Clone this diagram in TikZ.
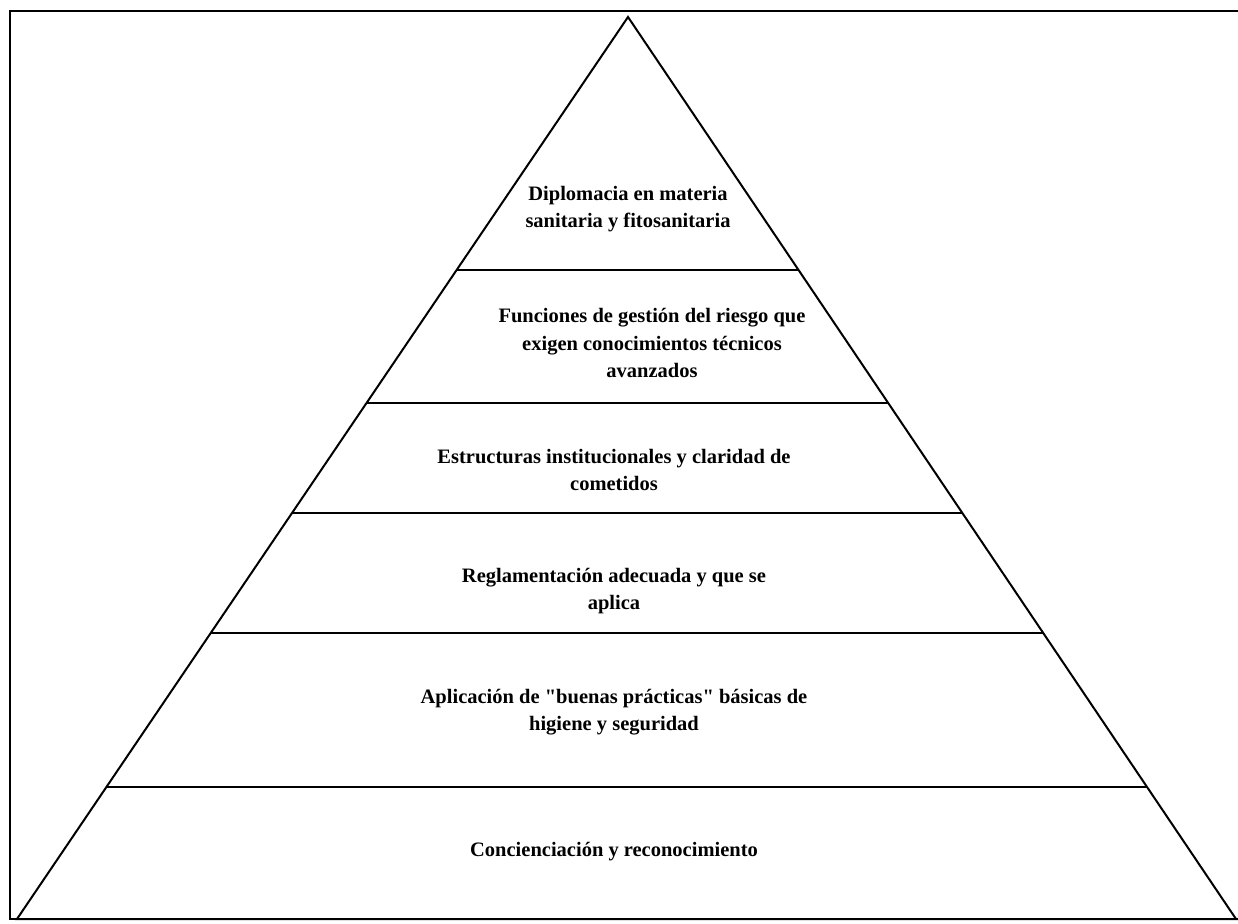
\documentclass[tikz,border=0pt]{standalone}
\usepackage{fontspec}
\setmainfont{Liberation Serif}[Ligatures=TeXOff]
\usetikzlibrary{calc}

\begin{document}
\begin{tikzpicture}[x=1pt,y=-1pt,
  level/.style={font=\fontsize{20.5}{27.5}\selectfont\bfseries, align=center, inner sep=0pt},
  edge/.style={line width=2pt}]
\useasboundingbox (0,0) rectangle (1238,923);
\draw[line width=2.8pt] (10,11) rectangle (1250,919);
\coordinate (apex) at (628,17);
\coordinate (bl) at (17,919);
\coordinate (br) at (1236,919);
\draw[edge, line join=miter] (bl) -- (apex) -- (br) -- cycle;
\foreach \t in {0.2805,0.4274,0.5499,0.6829,0.8537}
  \draw[edge] ($(apex)!\t!(bl)$) -- ($(apex)!\t!(br)$);
\node[level] (diplomacia) at (628,209) {Diplomacia en materia\\sanitaria y fitosanitaria};
\node[level] (funciones) at (652,343) {Funciones de gestión del riesgo que\\exigen conocimientos técnicos\\avanzados};
\node[level] (estructuras) at (614,470) {Estructuras institucionales y claridad de\\cometidos};
\node[level] (reglamentacion) at (614,591) {Reglamentación adecuada y que se\\aplica};
\node[level] (aplicacion) at (614,712) {Aplicación de "buenas prácticas" básicas de\\higiene y seguridad};
\node[level] (concienciacion) at (614,852) {Concienciación y reconocimiento};
\end{tikzpicture}
\end{document}
